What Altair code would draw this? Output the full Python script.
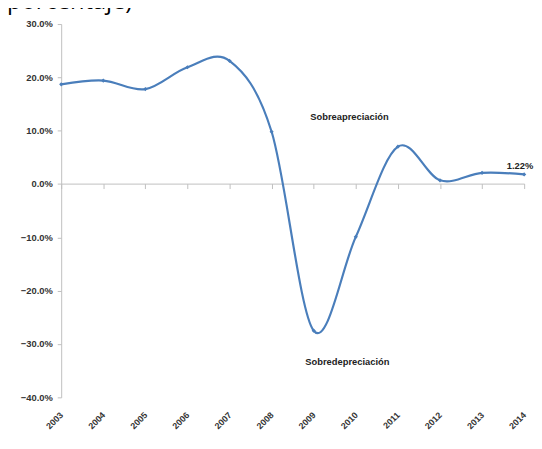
import altair as alt
import pandas as pd

years = [2003, 2004, 2005, 2006, 2007, 2008, 2009, 2010, 2011, 2012, 2013, 2014]
values = [18.7, 19.4, 17.8, 21.9, 23.1, 9.8, -27.5, -9.9, 7.0, 0.7, 2.1, 1.8]
y_ticks = [30, 20, 10, 0, -10, -20, -30, -40]

ann_x = [2009.85, 2009.8, 2013.9]
ann_y = [12.6, -33.3, 3.4]
ann_text = ["Sobreapreciación", "Sobredepreciación", "1.22%"]

df = pd.DataFrame({"year": years, "value": values})
ann = pd.DataFrame({"year": ann_x, "value": ann_y, "label": ann_text})

FONT = "Liberation Sans"
NFONT = "Liberation Sans Narrow, Liberation Sans"
BLUE = "#4a7ebb"
GRAY = "#bfbfbf"

xscale = alt.Scale(domain=[2003, 2014], nice=False, zero=False)
yscale = alt.Scale(domain=[-40, 30], nice=False, zero=False)

yaxis = alt.Axis(values=y_ticks, labelExpr="format(datum.value/100, '.1%')",
                 grid=False, domainColor=GRAY, tickColor=GRAY, tickSize=4,
                 labelFont=FONT, labelFontSize=9.5, labelFontWeight="bold",
                 labelColor="#333333", labelPadding=5, title=None)

line = alt.Chart(df).mark_line(interpolate="cardinal", color=BLUE, strokeWidth=2.2).encode(
    x=alt.X("year:Q", scale=xscale,
            axis=alt.Axis(values=years, format="d", orient="bottom", domain=False,
                          ticks=False, grid=False, labelAngle=315, labelAlign="right",
                          labelBaseline="middle", labelPadding=16, labelFont=FONT,
                          labelFontSize=9, labelFontWeight="bold", labelColor="#333333",
                          title=None)),
    y=alt.Y("value:Q", scale=yscale, axis=yaxis),
)

pts = alt.Chart(df).mark_point(shape="diamond", filled=True, color=BLUE, size=18, opacity=1).encode(
    x=alt.X("year:Q", scale=xscale,
            axis=alt.Axis(values=years, orient="bottom", offset=-217, labels=False,
                          domainColor=GRAY, tickColor=GRAY, tickSize=5, grid=False,
                          title=None)),
    y=alt.Y("value:Q", scale=yscale, axis=yaxis),
)

txt = alt.Chart(ann).mark_text(font=NFONT, fontSize=9.5, fontWeight="bold", color="#222222").encode(
    x=alt.X("year:Q", scale=xscale, axis=None),
    y=alt.Y("value:Q", scale=yscale, axis=yaxis),
    text="label:N",
)

chart = alt.layer(line, pts, txt).resolve_axis(x="independent").properties(
    width=470, height=379,
    autosize=alt.AutoSizeParams(type="none"),
    padding={"left": 54, "top": 13, "right": 10, "bottom": 40},
    title=alt.TitleParams("(porcentaje)", anchor="start", frame="group", fontSize=24,
                          font="Open Sans", fontWeight="normal", color="#000000",
                          dx=-62, dy=14, offset=0, baseline="alphabetic"),
).configure_view(stroke=None)

chart.save("out.html", embed_options={"renderer": "svg", "actions": False})
